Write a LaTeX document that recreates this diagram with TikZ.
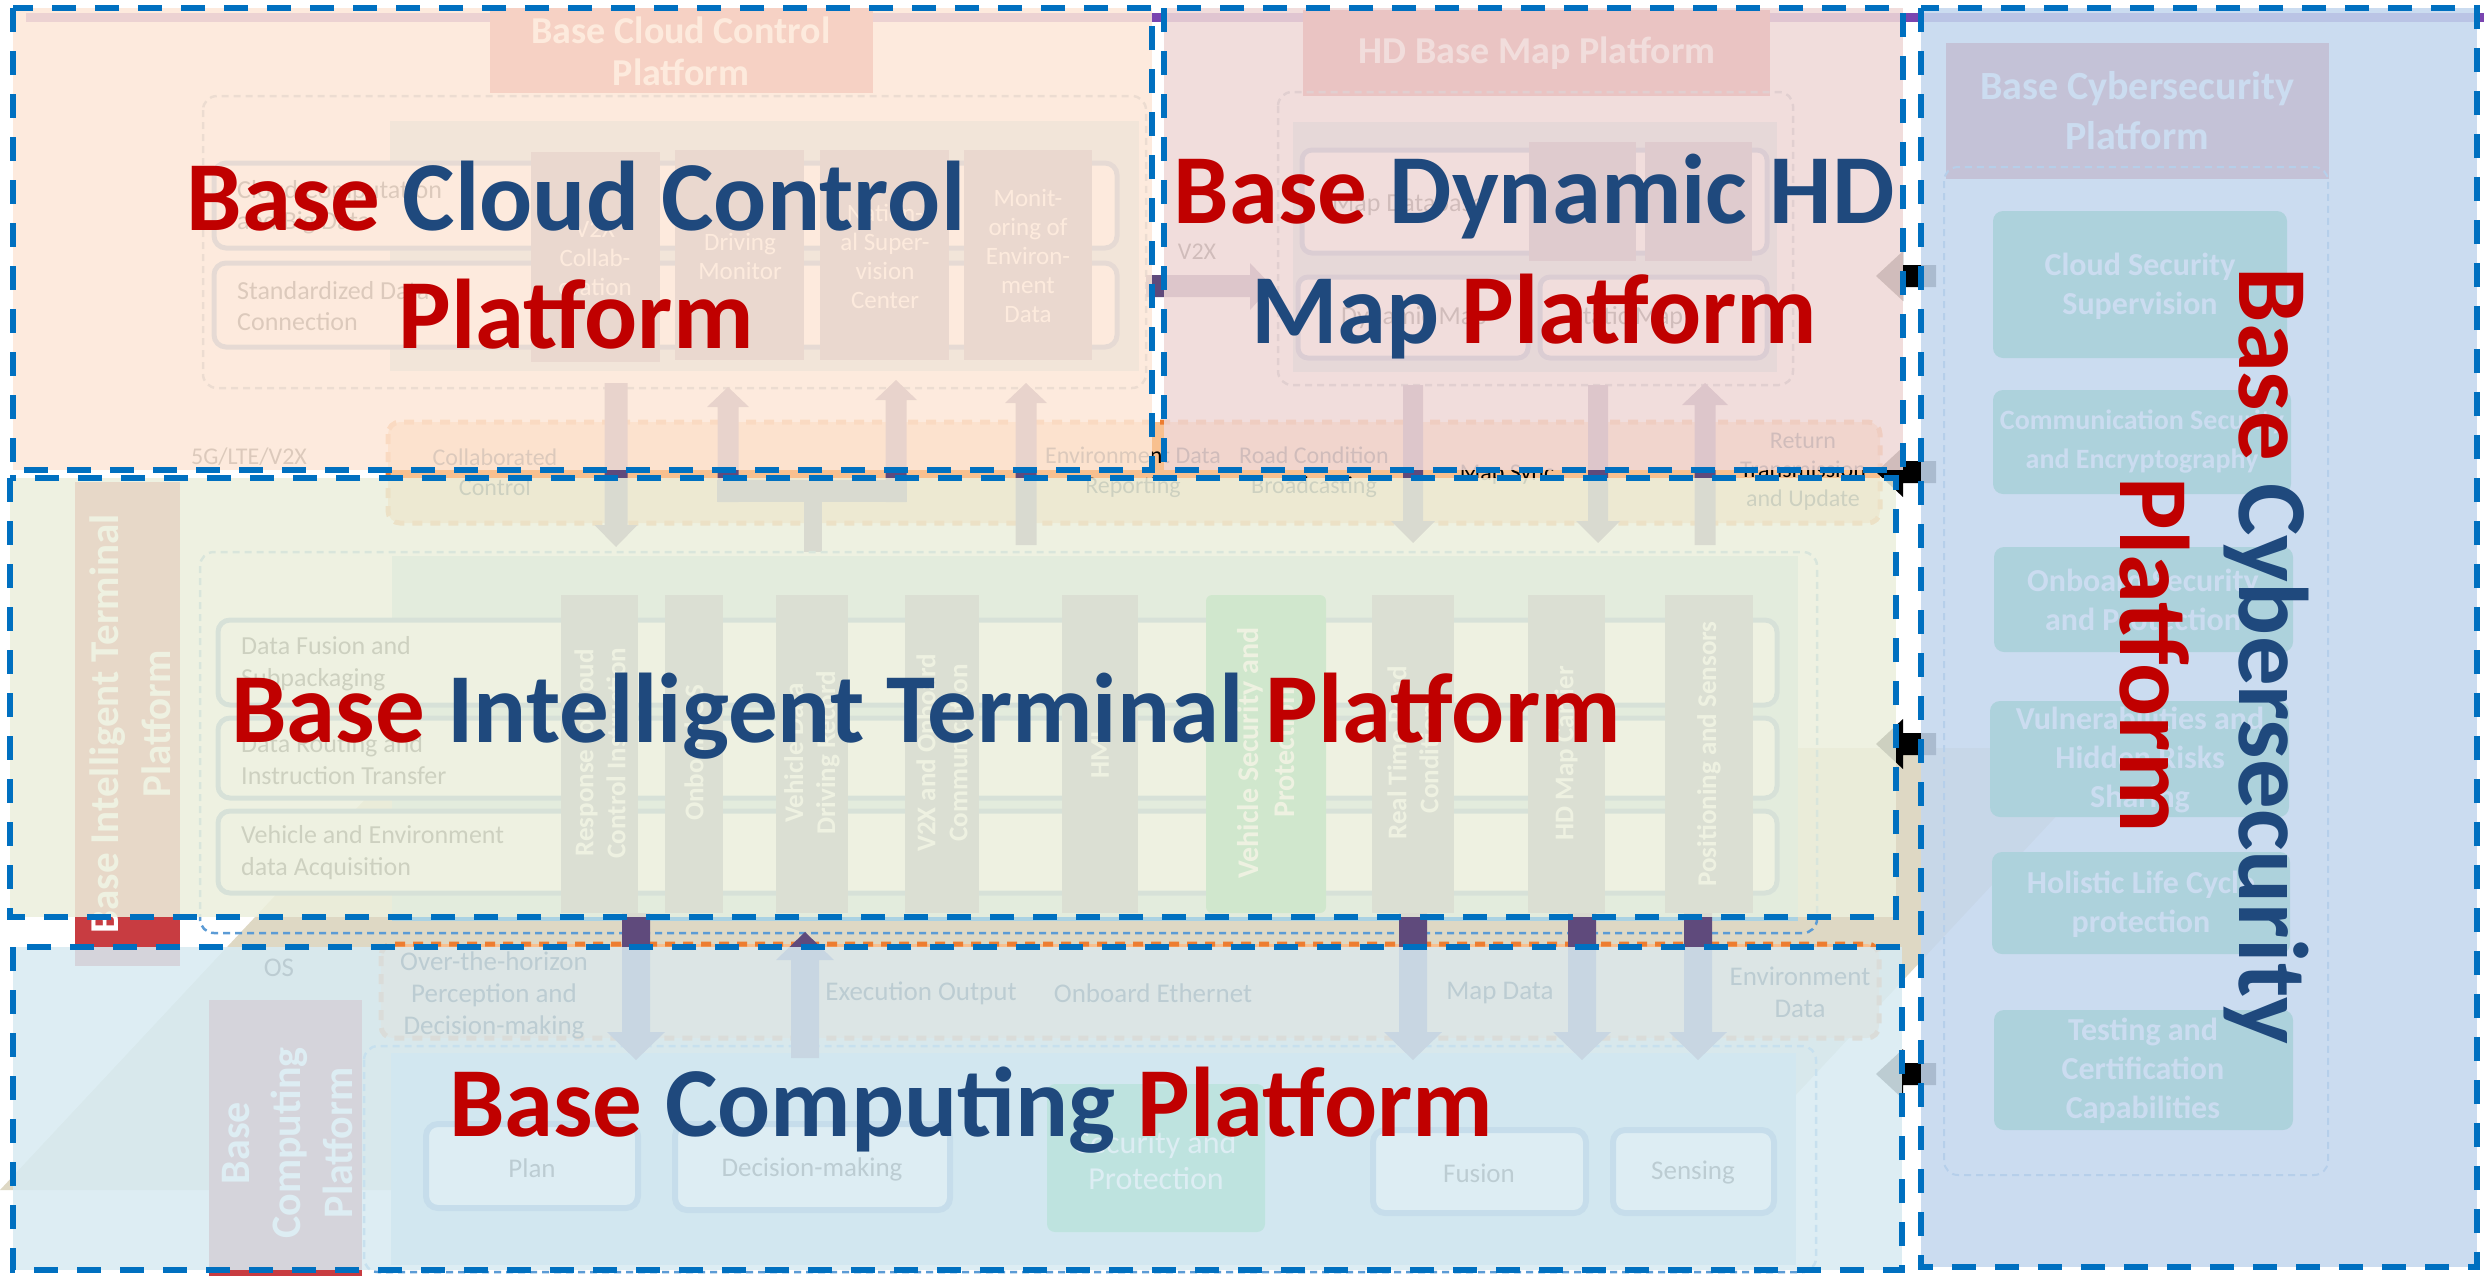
\documentclass[tikz,border=0pt]{standalone}
\usepackage{fontspec}
\setmainfont{Carlito}
\definecolor{basered}{HTML}{C00000}
\definecolor{baseblue}{HTML}{1F497D}
\definecolor{dashblue}{HTML}{0070C0}
\definecolor{cloudfill}{HTML}{FDE8D8}
\definecolor{mapfill}{HTML}{F0D9D7}
\definecolor{cyberfill}{HTML}{C4D7EE}
\definecolor{termfill}{HTML}{ECF0DD}
\definecolor{compfill}{HTML}{D8EBF2}
\definecolor{arrowpurple}{HTML}{5F4A7C}
\definecolor{colgrey}{HTML}{6E7096}
\definecolor{hdrred}{HTML}{C83C41}
\definecolor{secgreen}{HTML}{14B264}
\definecolor{bandpeach}{HTML}{F8C08F}
\definecolor{bandorange}{HTML}{ED7D31}
\definecolor{rowblue}{HTML}{4F81BD}
\definecolor{innerblue}{HTML}{AAD2E3}
\definecolor{contgrey}{HTML}{7F8FA8}
\definecolor{contblue}{HTML}{5B9BD5}
\definecolor{tanbase}{HTML}{DED8C4}
\definecolor{topband}{HTML}{7A45B0}
\newcommand{\fsz}[2]{\fontsize{#1}{#2}\selectfont}
% block arrow: x centre, y start, y of head base, y tip, half shaft, half head
\newcommand{\blockarrow}[6]{\fill[arrowpurple] ({#1-#5},#2) -- ({#1-#5},#3) -- ({#1-#6},#3) -- (#1,#4) -- ({#1+#6},#3) -- ({#1+#5},#3) -- ({#1+#5},#2) -- cycle;}
% arrow from the cybersecurity side, pointing left
\newcommand{\cyberarrow}[1]{\fill[black] (1876,#1) -- (1903,{#1-25}) -- (1903,{#1-11}) -- (1936,{#1-11}) -- (1936,{#1+11}) -- (1903,{#1+11}) -- (1903,{#1+25}) -- cycle;}
\begin{document}
\begin{tikzpicture}[x=1pt,y=-1pt,
    panel/.style={fill opacity=0.87},
    paneledge/.style={draw=dashblue,line width=5.5pt,dash pattern=on 24pt off 19pt},
    bigtitle/.style={inner sep=0pt,anchor=base,text=baseblue,font=\fsz{99}{118}\bfseries},
    hdrtext/.style={text=white,align=center,inner sep=0pt,font=\fsz{38}{42}\bfseries},
    coltext/.style={text=white,align=center,rotate=90,inner sep=0pt,font=\fsz{27}{32}\bfseries},
    lbl/.style={text=black,align=center,inner sep=0pt,font=\fsz{24}{30}},
    rowbox/.style={draw=rowblue,line width=5pt,fill=white,rounded corners=12pt},
    band/.style={fill=bandpeach,draw=bandorange,line width=5pt,dash pattern=on 10pt off 8pt,rounded corners=12pt},
    cont/.style={line width=2.5pt,dash pattern=on 7pt off 5pt,rounded corners=14pt},
    secbox/.style={fill=secgreen,rounded corners=10pt},
    sectext/.style={text=white,align=center,inner sep=0pt,font=\fsz{32}{39}\bfseries}]
    \fill[white] (0,0) rectangle (2484,1275);
    \useasboundingbox (0,0) rectangle (2484,1275);

    % faint base shape and top strip
    \fill[tanbase] (0,1190) -- (413,748) -- (2120,748) -- (1707,1190) -- cycle;
    \fill[topband] (26,13) rectangle (2484,22);

    % cloud control (underneath)
    \fill[hdrred] (490,8) rectangle (873,93);
    \node[hdrtext] (cloudhdr) at (681,51) {Base Cloud Control\\Platform};
    \draw[contgrey,cont] (203,96) rectangle (1146,388);
    \fill[innerblue] (390,121) rectangle (1139,371);
    \draw[rowbox] (214,163) rectangle (1117,248);
    \draw[rowbox] (214,263) rectangle (1117,347);
    \node[lbl,anchor=west,align=left,font=\fsz{26}{31}] (cloudrowa) at (237,207) {Cloud Computation\\and Big Data};
    \node[lbl,anchor=west,align=left,font=\fsz{26}{31}] (cloudrowb) at (237,306) {Standardized Data\\Connection};
    \fill[colgrey] (531,152) rectangle (660,362);
    \fill[colgrey] (675,150) rectangle (804,360);
    \fill[colgrey] (820,150) rectangle (949,360);
    \fill[colgrey] (964,150) rectangle (1092,360);
    \node[text=white,align=center,font=\fsz{25}{29}] (v2xcol) at (595,258) {V2X\\Collab-\\oration};
    \node[text=white,align=center,font=\fsz{25}{29}] (drivecol) at (740,256) {Driving\\Monitor};
    \node[text=white,align=center,font=\fsz{25}{29}] (natcol) at (885,256) {Nation-\\al Super-\\vision\\Center};
    \node[text=white,align=center,font=\fsz{25}{29}] (envcol) at (1028,256) {Monit-\\oring of\\Environ-\\ment\\Data};
    \node[lbl] (netlbl) at (249,457) {5G/LTE/V2X};

    % HD map (underneath)
    \fill[hdrred] (1303,10) rectangle (1770,96);
    \node[hdrtext] (maphdr) at (1537,53) {HD Base Map Platform};
    \draw[contgrey,cont] (1278,92) rectangle (1793,385);
    \fill[innerblue] (1293,122) rectangle (1777,372);
    \draw[rowbox,rounded corners=10pt] (1302,150) rectangle (1767,253);
    \draw[rowbox,rounded corners=10pt] (1298,277) rectangle (1528,358);
    \draw[rowbox,rounded corners=10pt] (1540,277) rectangle (1767,358);
    \fill[colgrey] (1529,142) rectangle (1636,261);
    \fill[colgrey] (1645,142) rectangle (1752,261);
    \node[lbl,anchor=west,font=\fsz{26}{31}] (mapdb) at (1332,205) {Map Database};
    \node[lbl,font=\fsz{26}{31}] (dynmap) at (1414,318) {Dynamic Map};
    \node[lbl,font=\fsz{26}{31}] (statmap) at (1627,318) {Static Map};
    \node[lbl] (v2xlbl) at (1197,252) {V2X};
    \fill[arrowpurple] (1146,275) -- (1250,275) -- (1250,263) -- (1272,286) -- (1250,310) -- (1250,297) -- (1146,297) -- cycle;

    % exchange band between cloud and terminal
    \draw[band] (388,422) rectangle (1880,523);
    \blockarrow{616}{383}{525}{547}{11.5}{21.5}
    \blockarrow{728}{502}{407}{387}{10.5}{21}
    \blockarrow{896}{502}{400}{380}{10.5}{21}
    \fill[arrowpurple] (717,480) rectangle (907,502);
    \fill[arrowpurple] (804,480) rectangle (822,552);
    \blockarrow{1026}{545}{403}{383}{10.5}{21}
    \blockarrow{1413}{385}{521}{543}{10}{22}
    \blockarrow{1598}{385}{521}{543}{10}{22}
    \blockarrow{1705}{545}{405}{383}{10.5}{23}
    \node[lbl] (collab) at (495,472) {Collaborated\\Control};
    \node[lbl] (envrep) at (1133,472) {Environment Data\\Reporting};
    \node[lbl] (roadcast) at (1314,472) {Road Condition\\Broadcasting};
    \node[lbl] (mapsync) at (1507,475) {Map Sync};
    \node[lbl,font=\fsz{24}{29}] (retrans) at (1803,472) {Return\\Transmission\\and Update};

    % arrows from cybersecurity
    \cyberarrow{276}
    \cyberarrow{472}
    \cyberarrow{744}
    \cyberarrow{1074}

    % intelligent terminal (underneath)
    \fill[hdrred] (75,482) rectangle (180,966);
    \node[text=white,anchor=base,rotate=90,inner sep=0pt,font=\fsz{41}{51}\bfseries] (termhdra) at (118,724) {Base Intelligent Terminal};
    \node[text=white,anchor=base,rotate=90,inner sep=0pt,font=\fsz{41}{51}\bfseries] (termhdrb) at (170,724) {Platform};
    \draw[contblue,cont] (200,552) rectangle (1817,933);
    \fill[innerblue] (392,556) rectangle (1798,921);
    \draw[rowbox] (218,620) rectangle (1777,705);
    \draw[rowbox] (218,718) rectangle (1777,798);
    \draw[rowbox] (218,811) rectangle (1777,893);
    \node[lbl,anchor=west,align=left,font=\fsz{26}{32}] (fusion) at (241,664) {Data Fusion and\\Subpackaging};
    \node[lbl,anchor=west,align=left,font=\fsz{26}{32}] (routing) at (241,760) {Data Routing and\\Instruction Transfer};
    \node[lbl,anchor=west,align=left,font=\fsz{26}{32}] (acquire) at (241,853) {Vehicle and Environment\\data Acquisition};
    \fill[colgrey] (561,595) rectangle (638,913);
    \fill[colgrey] (665,595) rectangle (723,913);
    \fill[colgrey] (776,595) rectangle (848,913);
    \fill[colgrey] (905,595) rectangle (979,913);
    \fill[colgrey] (1062,595) rectangle (1138,913);
    \fill[secgreen,rounded corners=6pt] (1206,595) rectangle (1326,913);
    \fill[colgrey] (1372,595) rectangle (1454,913);
    \fill[colgrey] (1528,595) rectangle (1605,913);
    \fill[colgrey] (1665,595) rectangle (1753,913);
    \node[coltext] (respcol) at (600,753) {Response to Cloud\\Control Instruction};
    \node[coltext] (oscol) at (694,753) {Onboard OS};
    \node[coltext] (recordcol) at (812,753) {Vehicle Data\\Driving Record};
    \node[coltext] (commcol) at (942,753) {V2X and Onboard\\Communication};
    \node[coltext] (hmicol) at (1100,755) {HMI};
    \node[coltext,font=\fsz{30}{36}\bfseries] (vsecol) at (1266,753) {Vehicle Security and\\Protection};
    \node[coltext] (roadcol) at (1413,753) {Real Time Road\\Conditions};
    \node[coltext] (hdcol) at (1566,753) {HD Map Carrier};
    \node[coltext] (poscol) at (1709,754) {Positioning and Sensors};

    % computing (underneath)
    \draw[band] (381,944) rectangle (1879,1038);
    \fill[hdrred] (209,1000) rectangle (362,1280);
    \node[text=white,anchor=base,rotate=90,inner sep=0pt,font=\fsz{42}{52}\bfseries] (comphdra) at (249,1143) {Base};
    \node[text=white,anchor=base,rotate=90,inner sep=0pt,font=\fsz{42}{52}\bfseries] (comphdrb) at (300,1143) {Computing};
    \node[text=white,anchor=base,rotate=90,inner sep=0pt,font=\fsz{42}{52}\bfseries] (comphdrc) at (352,1143) {Platform};
    \draw[contblue,cont] (364,1046) rectangle (1816,1272);
    \fill[innerblue] (391,1053) rectangle (1796,1265);
    \draw[rowbox,line width=6pt] (426,1124) rectangle (638,1208);
    \draw[rowbox,line width=6pt] (675,1124) rectangle (950,1210);
    \draw[rowbox,line width=6pt] (1373,1130) rectangle (1586,1213);
    \draw[rowbox,line width=6pt] (1613,1130) rectangle (1774,1213);
    \fill[secgreen,rounded corners=8pt] (1047,1084) rectangle (1265,1232);
    \node[lbl,font=\fsz{27}{32}] (plan) at (532,1168) {Plan};
    \node[lbl,font=\fsz{27}{32}] (decide) at (812,1169) {Decision-making};
    \node[lbl,font=\fsz{27}{32}] (fuse) at (1479,1173) {Fusion};
    \node[lbl,font=\fsz{27}{32}] (sense) at (1693,1173) {Sensing};
    \node[lbl,text=white,font=\fsz{32}{36}] (secprot) at (1156,1160) {Security and\\Protection};
    \blockarrow{636}{913}{1032}{1060}{14}{29}
    \blockarrow{805}{1058}{960}{932}{14}{29}
    \blockarrow{1413}{913}{1032}{1060}{14}{29}
    \blockarrow{1582}{913}{1032}{1060}{14}{29}
    \blockarrow{1698}{913}{1032}{1060}{14}{29}
    \node[lbl,font=\fsz{27}{32}] (oslbl) at (279,968) {OS};
    \node[lbl,font=\fsz{27}{32}] (horizon) at (494,995) {Over-the-horizon\\Perception and\\Decision-making};
    \node[lbl,font=\fsz{27}{32}] (execout) at (921,993) {Execution Output};
    \node[lbl,font=\fsz{27}{32}] (ethernet) at (1153,993) {Onboard Ethernet};
    \node[lbl,font=\fsz{27}{32}] (mapdata) at (1500,993) {Map Data};
    \node[lbl,font=\fsz{27}{32}] (envdata) at (1800,992) {Environment\\Data};

    % cybersecurity (underneath)
    \fill[hdrred] (1946,43) rectangle (2329,179);
    \node[hdrtext,font=\fsz{40}{50}\bfseries] (cyberhdr) at (2137,111) {Base Cybersecurity\\Platform};
    \draw[contblue,cont,line width=2pt] (1944,167) rectangle (2328,1175);
    \fill[secbox] (1993,211) rectangle (2287,358);
    \fill[secbox] (1993,390) rectangle (2291,494);
    \fill[secbox] (1994,547) rectangle (2293,652);
    \fill[secbox] (1990,701) rectangle (2289,817);
    \fill[secbox] (1992,852) rectangle (2290,954);
    \fill[secbox] (1994,1010) rectangle (2293,1130);
    \node[sectext] (cloudsec) at (2140,286) {Cloud Security\\Supervision};
    \node[sectext,font=\fsz{28}{39}\bfseries] (commsec) at (2142,442) {Communication Security\\and Encryptography};
    \node[sectext] (onbsec) at (2143,600) {Onboard Security\\and Protection};
    \node[sectext] (vulsec) at (2140,760) {Vulnerabilities and\\Hidden Risks\\Sharing};
    \node[sectext] (lifesec) at (2141,904) {Holistic Life Cycle\\protection};
    \node[sectext] (testsec) at (2143,1071) {Testing and\\Certification\\Capabilities};

    % translucent panels
    \path[fill=cloudfill,panel] (13,8) rectangle (1152,470);
    \path[fill=mapfill,panel] (1164,8) rectangle (1903,470);
    \path[fill=cyberfill,panel] (1921,8) rectangle (2477,1267);
    \path[fill=termfill,panel] (10,478) rectangle (1896,917);
    \path[fill=compfill,panel] (13,947) rectangle (1902,1270);
    \draw[paneledge] (13,8) rectangle (1152,470);
    \draw[paneledge] (1164,8) rectangle (1903,470);
    \draw[paneledge] (1921,8) rectangle (2477,1267);
    \draw[paneledge] (10,478) rectangle (1896,917);
    \draw[paneledge] (13,947) rectangle (1902,1270);

    % titles
    \node[bigtitle] (cloudta) at (576,230) {\textcolor{basered}{Base} Cloud Control};
    \node[bigtitle,text=basered] (cloudtb) at (576,348) {Platform};
    \node[bigtitle] (mapta) at (1534,223) {\textcolor{basered}{Base} Dynamic HD};
    \node[bigtitle] (maptb) at (1534,343) {Map \textcolor{basered}{Platform}};
    \node[bigtitle] (termt) at (926,742) {\textcolor{basered}{Base} Intelligent Terminal \textcolor{basered}{Platform}};
    \node[bigtitle] (compt) at (971,1136) {\textcolor{basered}{Base} Computing \textcolor{basered}{Platform}};
    \node[bigtitle,rotate=-90] (cyberta) at (2239,656) {\textcolor{basered}{Base} Cybersecurity};
    \node[bigtitle,rotate=-90,text=basered] (cybertb) at (2120,655) {Platform};
\end{tikzpicture}
\end{document}
